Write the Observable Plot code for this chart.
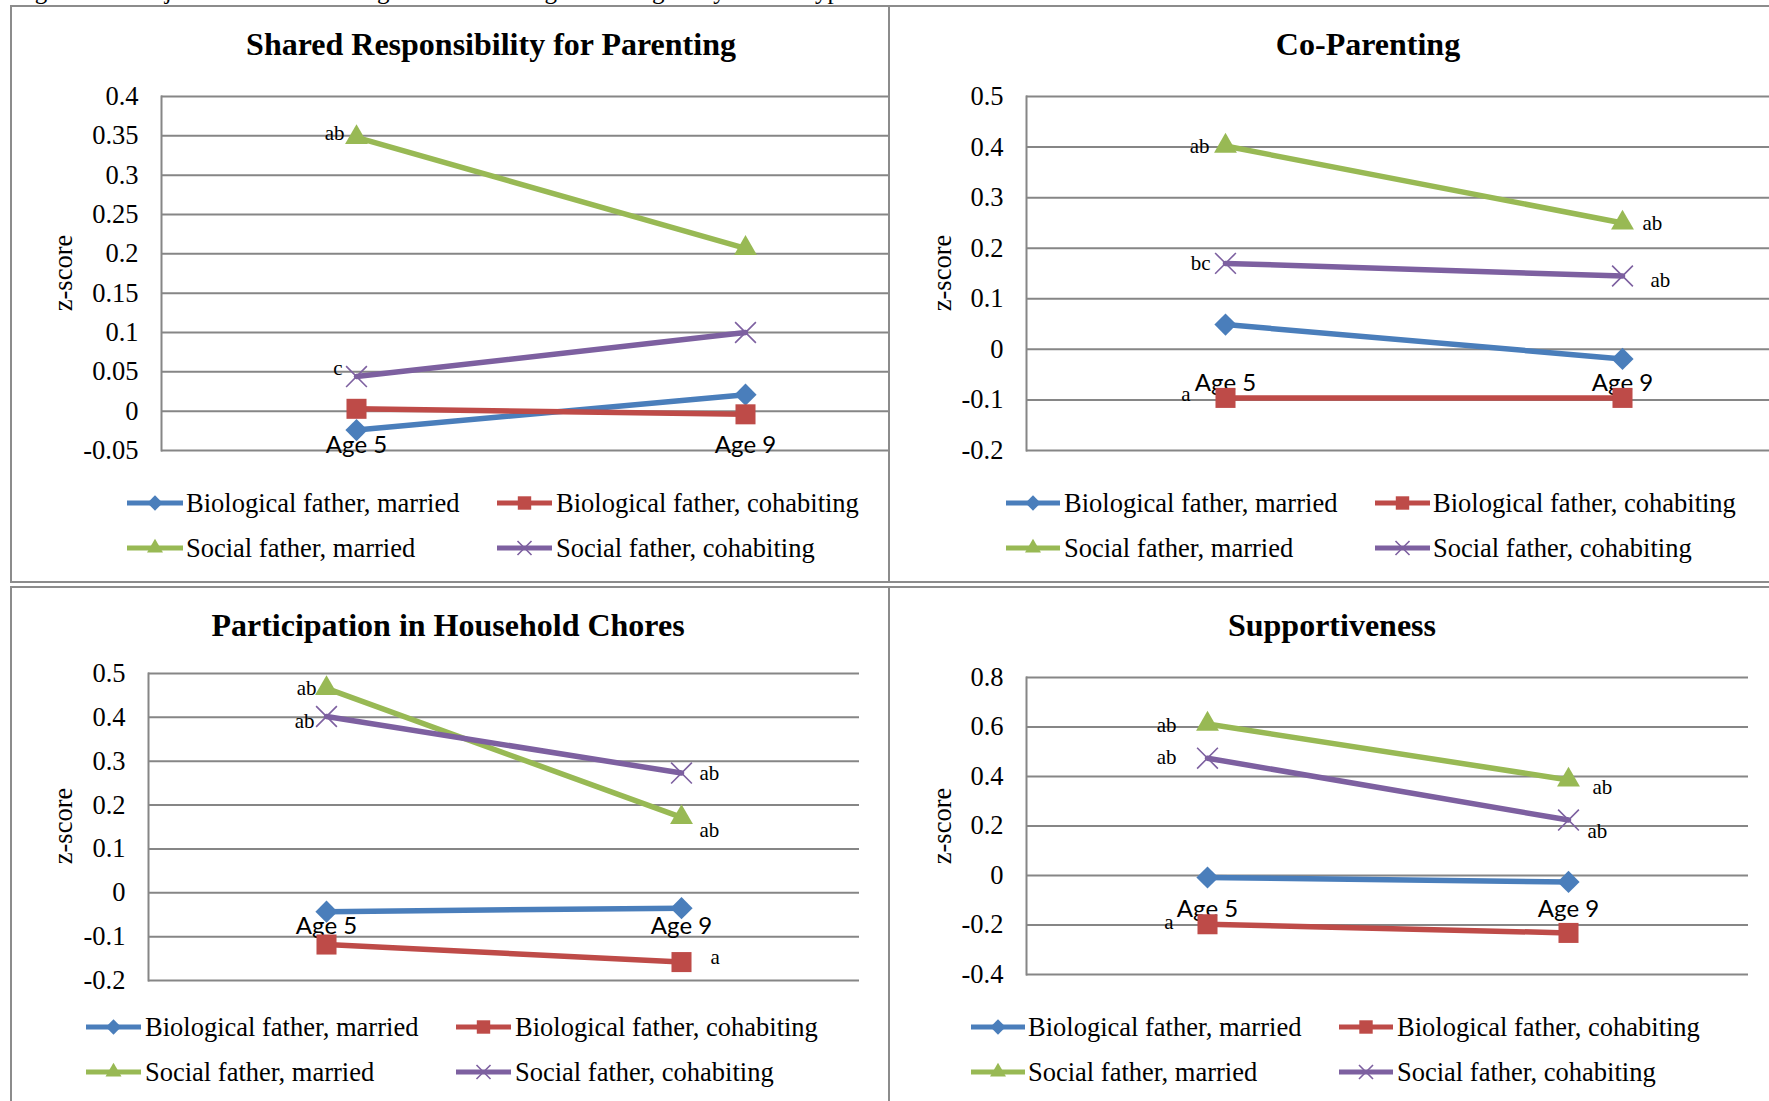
<!DOCTYPE html>
<html>
<head>
<meta charset="utf-8">
<script src="https://cdn.jsdelivr.net/npm/d3@7"></script>
<script src="https://cdn.jsdelivr.net/npm/@observablehq/plot@0.6"></script>
<style>
html, body { margin: 0; padding: 0; background: #fff; }
body { width: 1769px; height: 1101px; overflow: hidden; position: relative; font-family: "Liberation Serif", "Times New Roman", serif; }
.panel { position: absolute; border: 2px solid #8c8c8c; overflow: hidden; box-sizing: content-box; background: #fff; }
.panel svg { position: absolute; }
#caption { position: absolute; left: 0; top: 0; }
</style>
</head>
<body>
<script>
// ---------------- data ----------------
const ages = ["Age 5", "Age 9"];
const seriesNames = ["Biological father, married", "Biological father, cohabiting", "Social father, married", "Social father, cohabiting"];
const seriesColors = ["#4a7ebb", "#be4b48", "#98b954", "#7d60a0"];
const seriesSymbols = ["diamond2", "square", "triangle", "times"];

const panelTitles = ["Shared Responsibility for Parenting", "Co-Parenting", "Participation in Household Chores", "Supportiveness"];
const yAxisLabel = "z-score";
const captionText = "Figure 1. Unadjusted Mean Fathering Behaviors at Age 5 and Age 9 by Father Type";

// values per series: [Age 5, Age 9]
const sharedValues   = [[-0.024, 0.021], [0.003, -0.004], [0.348, 0.207], [0.044, 0.100]];
const coParentValues = [[0.049, -0.019], [-0.096, -0.096], [0.402, 0.250], [0.170, 0.145]];
const choresValues   = [[-0.043, -0.035], [-0.118, -0.158], [0.466, 0.172], [0.402, 0.273]];
const supportValues  = [[-0.008, -0.026], [-0.197, -0.232], [0.612, 0.386], [0.474, 0.224]];

// significance letters per series: [Age 5, Age 9]
const sharedLetters   = [["", ""], ["", ""], ["ab", ""], ["c", ""]];
const coParentLetters = [["", ""], ["a", ""], ["ab", "ab"], ["bc", "ab"]];
const choresLetters   = [["", ""], ["", "a"], ["ab", "ab"], ["ab", "ab"]];
const supportLetters  = [["", ""], ["a", ""], ["ab", "ab"], ["ab", "ab"]];

// y-axis ticks
const sharedTicks   = [-0.05, 0, 0.05, 0.1, 0.15, 0.2, 0.25, 0.3, 0.35, 0.4];
const coParentTicks = [-0.2, -0.1, 0, 0.1, 0.2, 0.3, 0.4, 0.5];
const choresTicks   = [-0.2, -0.1, 0, 0.1, 0.2, 0.3, 0.4, 0.5];
const supportTicks  = [-0.4, -0.2, 0, 0.2, 0.4, 0.6, 0.8];

// ---------------- layout (page pixels) ----------------
const panels = [
  { title: panelTitles[0], values: sharedValues, letters: sharedLetters, ticks: sharedTicks,
    box: { left: 10, top: 5, w: 876, h: 574 }, frame: { x0: 161, x1: 939, y0: 96, y1: 450 },
    titlePos: [491, 55], zPos: [72, 273],
    legend: { rows: [503, 548], cols: [[127, 183, 186], [497, 552, 556]] },
    offsets: { "2-0": ["end", -12, -4], "3-0": ["end", -14, -8] } },
  { title: panelTitles[1], values: coParentValues, letters: coParentLetters, ticks: coParentTicks,
    box: { left: 888, top: 5, w: 1000, h: 574 }, frame: { x0: 1026, x1: 1820, y0: 96, y1: 450 },
    titlePos: [1368, 55], zPos: [951, 273],
    legend: { rows: [503, 548], cols: [[1006, 1060, 1064], [1375, 1430, 1433]] },
    offsets: { "1-0": ["end", -35, -4], "2-0": ["end", -16, 0], "2-1": ["start", 20, 0], "3-0": ["end", -15, 0], "3-1": ["start", 28, 4] } },
  { title: panelTitles[2], values: choresValues, letters: choresLetters, ticks: choresTicks,
    box: { left: 10, top: 586, w: 876, h: 600 }, frame: { x0: 148, x1: 859, y0: 673, y1: 980 },
    titlePos: [448, 636], zPos: [72, 826],
    legend: { rows: [1027, 1072], cols: [[86, 141, 145], [456, 511, 515]] },
    offsets: { "1-1": ["start", 29, -5], "2-0": ["end", -10, 0], "2-1": ["start", 18, 13], "3-0": ["end", -12, 5], "3-1": ["start", 18, 0] } },
  { title: panelTitles[3], values: supportValues, letters: supportLetters, ticks: supportTicks,
    box: { left: 888, top: 586, w: 1000, h: 600 }, frame: { x0: 1026, x1: 1748, y0: 677, y1: 974 },
    titlePos: [1332, 636], zPos: [951, 826],
    legend: { rows: [1027, 1072], cols: [[971, 1025, 1028], [1339, 1393, 1397]] },
    offsets: { "1-0": ["end", -34, -2], "2-0": ["end", -31, 1], "2-1": ["start", 24, 7], "3-0": ["end", -31, -1], "3-1": ["start", 19, 11] } }
];

const GRID = "#868686";
const SERIF = "Liberation Serif, Times New Roman, serif";
const fmt = d => String(+d.toFixed(2));
const markerR = { diamond2: 10, square: 11.3, triangle: 8.5, times: 9.5 };
const legendSym = [
  [d3.symbolDiamond2, 150], [d3.symbolSquare, 180], [d3.symbolTriangle, 110], [d3.symbolTimes, 130]
];

// caption (mostly cut off at top)
{
  const svg = d3.create("svg").attr("id", "caption").attr("width", 1769).attr("height", 30);
  svg.append("text").attr("x", 14).attr("y", -1).attr("font-family", SERIF).attr("font-size", 25).attr("fill", "#000").text(captionText);
  document.body.appendChild(svg.node());
}

function makePanel(p) {
  const div = document.createElement("div");
  div.className = "panel";
  Object.assign(div.style, { left: p.box.left + "px", top: p.box.top + "px", width: p.box.w + "px", height: p.box.h + "px" });
  document.body.appendChild(div);
  const ox = p.box.left + 2, oy = p.box.top + 2;

  // decorations: title, y label, legend
  const deco = d3.create("svg").attr("width", p.box.w).attr("height", p.box.h)
    .attr("viewBox", `${ox} ${oy} ${p.box.w} ${p.box.h}`)
    .style("left", "0px").style("top", "0px");
  deco.append("text").attr("x", p.titlePos[0]).attr("y", p.titlePos[1])
    .attr("text-anchor", "middle").attr("font-family", SERIF).attr("font-weight", "bold")
    .attr("font-size", 32).attr("fill", "#000").text(p.title);
  deco.append("text").attr("transform", `translate(${p.zPos[0]},${p.zPos[1]}) rotate(-90)`)
    .attr("text-anchor", "middle").attr("font-family", SERIF).attr("font-size", 26.5).attr("fill", "#000").text(yAxisLabel);
  seriesNames.forEach((name, s) => {
    const row = p.legend.rows[Math.floor(s / 2)];
    const col = p.legend.cols[s % 2];
    deco.append("line").attr("x1", col[0]).attr("x2", col[1]).attr("y1", row).attr("y2", row)
      .attr("stroke", seriesColors[s]).attr("stroke-width", 5);
    const [type, size] = legendSym[s];
    const path = deco.append("path").attr("d", d3.symbol(type, size)())
      .attr("transform", `translate(${(col[0] + col[1]) / 2},${row})`);
    if (seriesSymbols[s] === "times") path.attr("fill", "none").attr("stroke", seriesColors[s]).attr("stroke-width", 1.6);
    else path.attr("fill", seriesColors[s]);
    deco.append("text").attr("x", col[2]).attr("y", row + 9).attr("font-family", SERIF)
      .attr("font-size", 26.5).attr("fill", "#000").text(name);
  });
  div.appendChild(deco.node());

  // chart
  const ml = 140, mt = 20, mb = 60;
  const W = p.frame.x1 - p.frame.x0, H = p.frame.y1 - p.frame.y0;
  const rows = [];
  p.values.forEach((vals, s) => vals.forEach((v, a) => rows.push({ s, series: seriesNames[s], a, age: ages[a], value: v, letter: p.letters[s][a] })));

  const marks = [
    Plot.ruleY(p.ticks, { stroke: GRID, strokeWidth: 2 }),
    Plot.frame({ anchor: "left", stroke: GRID, strokeWidth: 2 }),
    Plot.axisY({ ticks: p.ticks, tickSize: 0, tickPadding: 23, tickFormat: fmt, fontSize: 26.5, fontFamily: SERIF, fill: "#000", label: null }),
    Plot.text(ages, { x: d => d, y: () => 0, text: d => d, dy: 41.5, lineAnchor: "bottom", fontFamily: "Lato", fontSize: 24, fill: "#000" })
  ];
  seriesNames.forEach((name, s) => {
    const d = rows.filter(r => r.s === s);
    marks.push(Plot.line(d, { x: "age", y: "value", stroke: seriesColors[s], strokeWidth: 5.5 }));
    const sym = seriesSymbols[s];
    if (sym === "times") {
      marks.push(Plot.dot(d, { x: "age", y: "value", symbol: sym, r: markerR[sym], stroke: seriesColors[s], strokeWidth: 1.6, fill: "none" }));
    } else {
      marks.push(Plot.dot(d, { x: "age", y: "value", symbol: sym, r: markerR[sym], fill: seriesColors[s], stroke: "none" }));
    }
  });
  rows.filter(r => r.letter).forEach(r => {
    const o = p.offsets[`${r.s}-${r.a}`] || ["end", -14, 0];
    marks.push(Plot.text([r], { x: "age", y: "value", text: "letter", textAnchor: o[0], dx: o[1], dy: o[2], fontFamily: SERIF, fontSize: 21, fill: "#000" }));
  });

  const chart = Plot.plot({
    width: ml + W, height: mt + H + mb,
    marginLeft: ml, marginRight: 0, marginTop: mt, marginBottom: mb,
    x: { type: "point", domain: ages, padding: 0.5, axis: null },
    y: { domain: [p.ticks[0], p.ticks[p.ticks.length - 1]], axis: null },
    style: "max-width:none;overflow:visible;background:transparent;",
    marks
  });
  chart.style.position = "absolute";
  chart.style.left = (p.frame.x0 - ml - ox) + "px";
  chart.style.top = (p.frame.y0 - mt - oy) + "px";
  div.appendChild(chart);
}

panels.forEach(makePanel);
</script>
</body>
</html>
